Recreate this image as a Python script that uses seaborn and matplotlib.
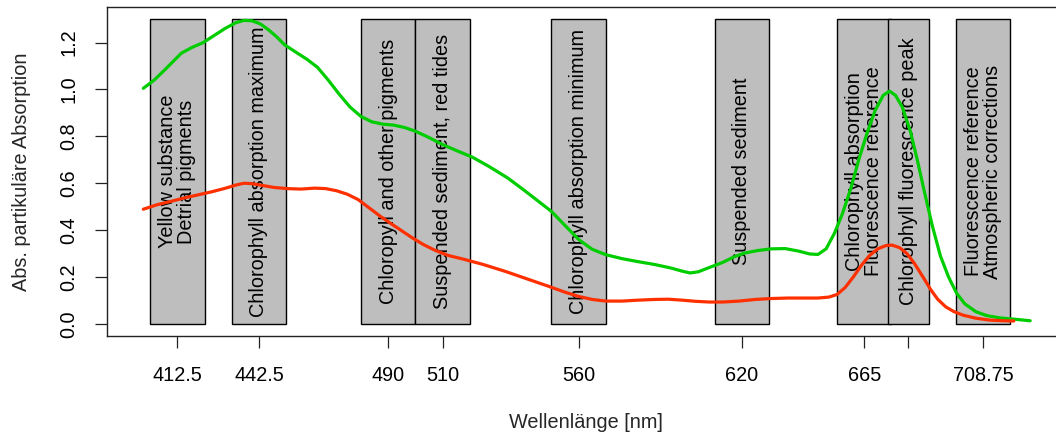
import matplotlib
matplotlib.use("Agg")
import matplotlib.pyplot as plt
import seaborn as sns
import pandas as pd

sns.set_theme(style="white")
plt.rcParams["font.family"] = ["Liberation Sans", "DejaVu Sans"]

# MERIS band centres, half-widths and their application labels
band_center = [412.5, 442.5, 490, 510, 560, 620, 665, 681.25, 708.75]
band_halfwidth = [10, 10, 10, 10, 10, 10, 10, 7.5, 10]
band_label = [
    "Yellow substance\nDetrial pigments",
    "Chlorophyll absorption maximum",
    "Chloropyll and other pigments",
    "Suspended sediment, red tides",
    "Chlorophyll absorption minimum",
    "Suspended sediment",
    "Chlorophyll absorption\nFluorescence reference",
    "Chlorophyll fluorescence peak",
    "Fluorescence reference\nAtmospheric corrections",
]
tick_labels = ["412.5", "442.5", "490", "510", "560", "620", "665", "", "708.75"]
bar_top = 1.3

# particulate absorption spectra
green_nm = [400, 404, 408, 411, 414, 418, 422, 426, 430, 434, 437, 440, 443, 446,
            449, 452, 456, 460, 464, 468, 472, 476, 480, 484, 488, 492, 496, 500,
            505, 510, 515, 521, 527, 534, 540, 545, 550, 555, 560, 565, 570, 576,
            582, 588, 594, 598, 601, 604, 608, 613, 617, 621, 626, 631, 636, 641,
            645, 648, 651, 654, 657, 660, 663, 666, 669, 672, 674.3, 676.5, 679,
            682, 684.5, 687, 690, 693, 696, 699, 702, 706, 710, 715, 720, 726]
green_val = [1.005, 1.04, 1.085, 1.12, 1.155, 1.18, 1.20, 1.23, 1.26, 1.285, 1.295,
             1.293, 1.28, 1.255, 1.225, 1.19, 1.16, 1.13, 1.095, 1.04, 0.98, 0.925,
             0.885, 0.862, 0.852, 0.848, 0.838, 0.822, 0.795, 0.765, 0.74, 0.711,
             0.672, 0.622, 0.57, 0.525, 0.48, 0.42, 0.36, 0.318, 0.295, 0.278,
             0.265, 0.253, 0.238, 0.225, 0.217, 0.222, 0.24, 0.262, 0.285, 0.302,
             0.313, 0.32, 0.321, 0.31, 0.298, 0.296, 0.32, 0.385, 0.47, 0.575, 0.70,
             0.812, 0.91, 0.975, 0.993, 0.975, 0.925, 0.82, 0.70, 0.57, 0.42, 0.29,
             0.20, 0.13, 0.085, 0.052, 0.035, 0.025, 0.02, 0.013]
red_nm = [400, 405, 410, 415, 420, 425, 430, 434, 437, 440, 444, 448, 453, 458,
          463, 467, 471, 475, 479, 483, 487, 491, 495, 499, 503, 507, 512, 518,
          525, 533, 541, 549, 555, 560, 565, 570, 576, 582, 588, 593, 598, 603,
          608, 613, 619, 625, 631, 637, 643, 648, 652, 655, 658, 661, 664, 667,
          670, 673, 675.2, 678, 680.7, 683.5, 686.6, 689.5, 692, 695, 698, 701.3,
          706, 711, 716, 720]
red_val = [0.489, 0.508, 0.522, 0.537, 0.55, 0.563, 0.578, 0.592, 0.60, 0.598,
           0.59, 0.582, 0.577, 0.575, 0.579, 0.577, 0.568, 0.553, 0.53, 0.495,
           0.46, 0.428, 0.397, 0.366, 0.338, 0.315, 0.292, 0.275, 0.253, 0.224,
           0.192, 0.16, 0.135, 0.117, 0.104, 0.097, 0.097, 0.101, 0.104, 0.105,
           0.101, 0.096, 0.093, 0.093, 0.097, 0.104, 0.108, 0.11, 0.11, 0.11,
           0.114, 0.125, 0.155, 0.20, 0.25, 0.292, 0.32, 0.334, 0.336, 0.325,
           0.30, 0.257, 0.20, 0.145, 0.105, 0.072, 0.052, 0.037, 0.024, 0.016,
           0.013, 0.012]

W, H = 1056, 437
fig = plt.figure(figsize=(W / 100, H / 100), dpi=100)
ax = fig.add_axes([107 / W, (H - 336) / H, (W - 107) / W, 329 / H])

fs = 14.3
# band rectangles with their labels
for c, hw, lab in zip(band_center, band_halfwidth, band_label):
    ax.bar(c, bar_top, width=2 * hw, bottom=0, color="#BEBEBE",
           edgecolor="black", linewidth=1.0, zorder=1)
    ax.text(c, bar_top / 2, lab, rotation=90, ha="center", va="center",
            fontsize=fs, linespacing=1.0, color="black", zorder=2)

green_df = pd.DataFrame({"nm": green_nm, "val": green_val})
red_df = pd.DataFrame({"nm": red_nm, "val": red_val})
sns.lineplot(data=green_df, x="nm", y="val", ax=ax, color="#00CD00", lw=2.3,
             sort=False, estimator=None, zorder=3)
sns.lineplot(data=red_df, x="nm", y="val", ax=ax, color="#FF3000", lw=2.3,
             sort=False, estimator=None, zorder=3)

ax.set_xlim(386.66, 735.5)
ax.set_ylim(-0.052, 1.352)
ax.set_xticks(band_center)
ax.set_xticklabels(tick_labels)
ax.set_yticks([0.0, 0.2, 0.4, 0.6, 0.8, 1.0, 1.2])
ax.set_yticklabels(["0.0", "0.2", "0.4", "0.6", "0.8", "1.0", "1.2"],
                   rotation=90, va="center")

for side in ["left", "top", "bottom"]:
    ax.spines[side].set_visible(True)
    ax.spines[side].set_color("#222222")
    ax.spines[side].set_linewidth(1.0)
ax.spines["right"].set_visible(False)

ax.tick_params(axis="both", direction="out", length=8.6, width=0.9,
               color="#222222", labelsize=fs, labelcolor="black")
ax.tick_params(axis="x", pad=13, bottom=True)
ax.tick_params(axis="y", pad=12, left=True)

ax.set_xlabel("Wellenlänge [nm]", fontsize=fs, va="center")
ax.xaxis.set_label_coords((585.5 - 107) / 949, (336 - 422) / 329)
ax.set_ylabel("Abs. partikuläre Absorption", fontsize=fs, va="center")
ax.yaxis.set_label_coords((22 - 107) / 949, 0.5)
ax.grid(False)

fig.savefig("out.png", dpi=100)
